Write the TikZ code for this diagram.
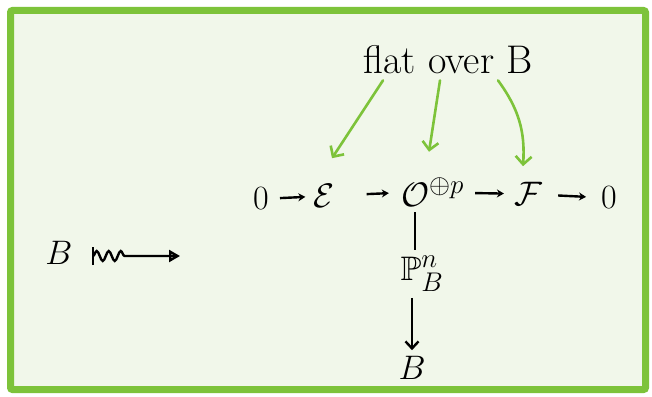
\RequirePackage{fix-cm}
\documentclass[tikz,border=0pt]{standalone}
\usepackage{amsmath}
\usepackage{amssymb}
\usepackage{tikz}
\usetikzlibrary{arrows.meta, positioning, calc, decorations.pathmorphing}
\definecolor{leaf}{HTML}{7DC33A}
\definecolor{paper}{HTML}{F1F7EA}
\DeclareMathSizes{34}{34}{27}{20}

\begin{document}
\begin{tikzpicture}[x=1pt,y=-1pt, font=\fontsize{34}{40}\selectfont,
  seq/.style={line width=2.4pt, -{Stealth[length=7pt,width=8pt]}},
  flatarrow/.style={leaf, line width=2.6pt, line cap=round, -{Straight Barb[length=8pt,width=16pt]}},
  obj/.style={inner sep=0pt}]
\useasboundingbox (0,0) rectangle (652,396);
\fill[white] (0,0) rectangle (652,396);
\draw[leaf, line width=7pt, fill=paper, rounded corners=2pt] (10.5,10.5) rectangle (645.5,389.5);

% the exact sequence
\node[obj] (z1) at (261,199) {$0$};
\node[obj] (E) at (324,196) {$\mathcal{E}$};
\node[obj] (O) at (415,192) {$\mathcal{O}\rlap{$^{\oplus p}$}$};
\node[obj] (F) at (528,194) {$\mathcal{F}$};
\node[obj] (z2) at (609,198) {$0$};

\draw[seq, shorten <=11pt, shorten >=8pt] (z1) -- (E);
\draw[seq, shorten <=32pt, shorten >=12pt] (E) -- (O);
\draw[seq, shorten <=46pt, shorten >=10pt] (O) -- (F);
\draw[seq, shorten <=16pt, shorten >=15pt] (F) -- (z2);

% the projective space over B
\node[obj] (P) at (422,274) {$\mathbb{P}^{n}_{B}$};
\node[obj] (B2) at (412,368) {$B$};
\draw[line width=2.4pt, shorten <=6pt, shorten >=6pt] (O.south) -- (O.south |- P.north);
\draw[line width=2.4pt, -{Straight Barb[length=7pt,width=13pt]}, shorten <=6pt, shorten >=6pt] (B2 |- P.south) -- (B2.north);

% the family on the left
\node[obj] (B1) at (59,253) {$B$};
\coordinate (sq0) at (93,256);
\coordinate (sq) at (180,256);
\draw[line width=2.4pt] ([yshift=-9pt]sq0) -- ([yshift=9pt]sq0);
\draw[line width=2.4pt, decorate, decoration={snake, amplitude=5pt, segment length=12pt, post length=50pt}] (sq0) -- ([xshift=-2pt]sq);
\draw[line width=2.4pt, -{Triangle[open, length=11pt, width=12pt]}] ([xshift=-12pt]sq) -- (sq);

% flat over B
\node[obj, font=\fontsize{40}{46}\selectfont] (flat) at (448,60) {flat over B};
\draw[flatarrow] ([xshift=-65pt,yshift=-6pt]flat.south) -- ([shift={(8,-26)}]E.north);
\draw[flatarrow] ([xshift=-8pt,yshift=-6pt]flat.south) -- ([shift={(14,-26)}]O.north);
\draw[flatarrow] ([xshift=50pt,yshift=-6pt]flat.south) to[bend left=20] ([shift={(-5,-16)}]F.north);
\end{tikzpicture}
\end{document}
